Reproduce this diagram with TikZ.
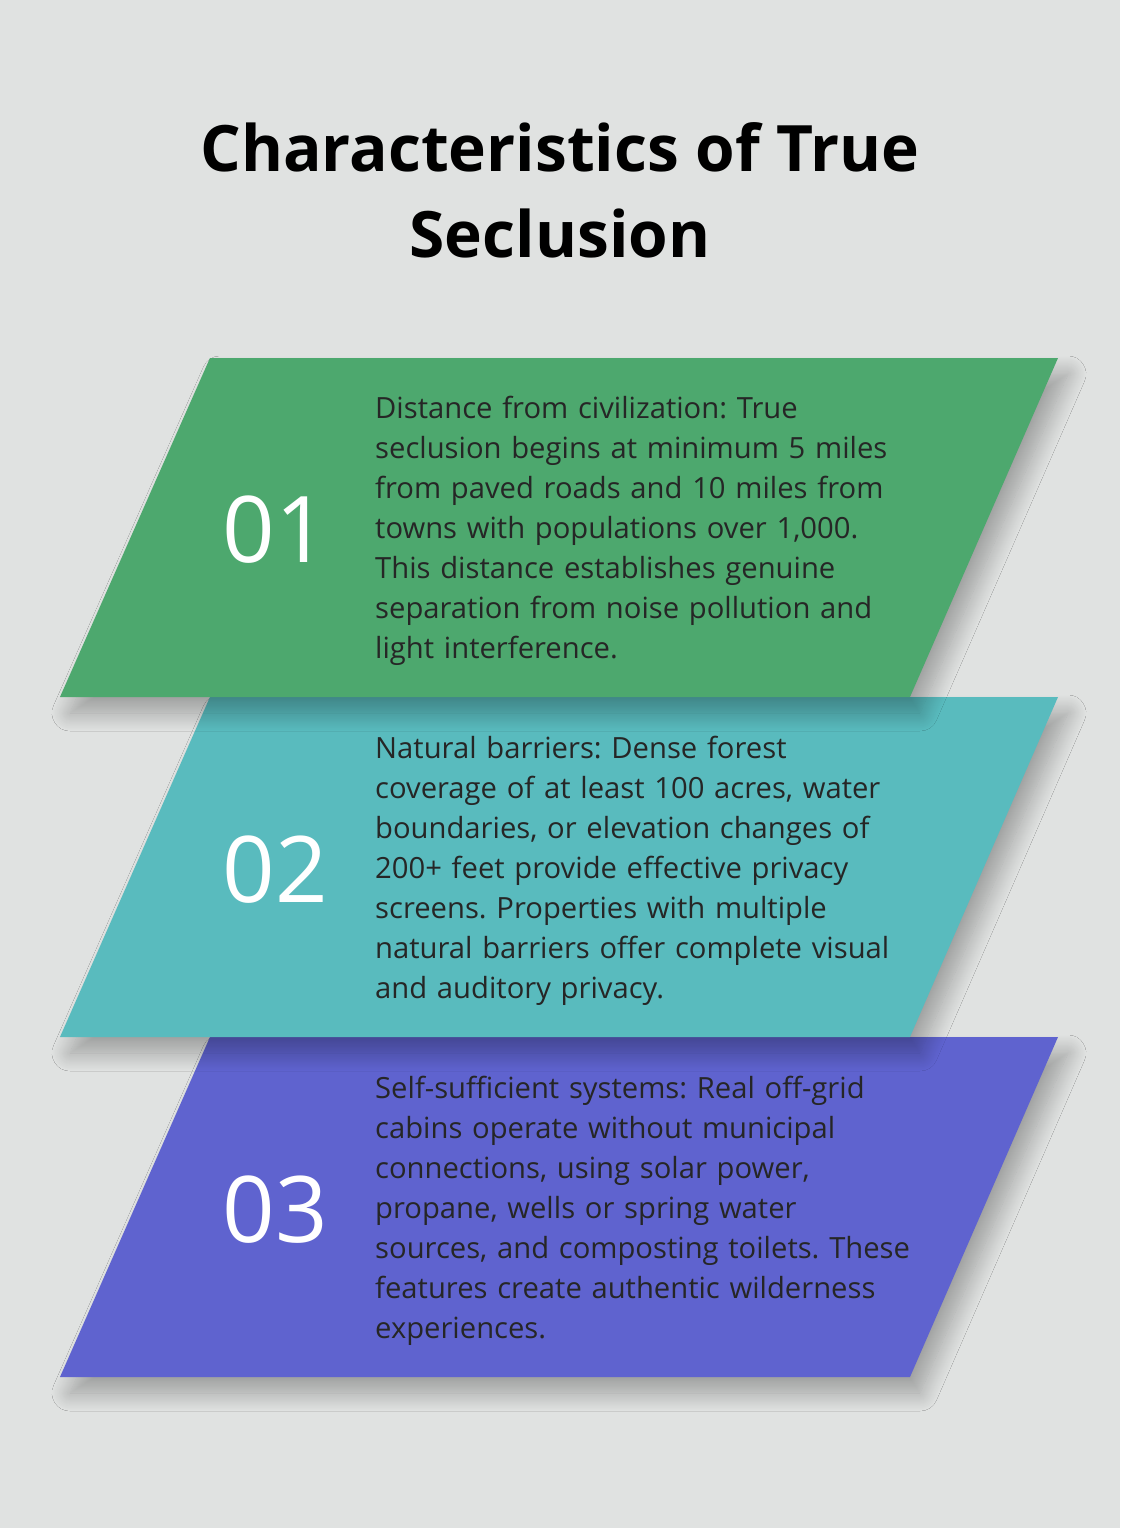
\documentclass[tikz,border=0pt]{standalone}
\usepackage{fontspec}
\setmainfont{Open Sans}
\usetikzlibrary{positioning,shadows.blur}
\definecolor{bg}{HTML}{E0E2E1}
\definecolor{bandA}{HTML}{4DA86E}
\definecolor{bandB}{HTML}{59BBBE}
\definecolor{bandC}{HTML}{5F63CF}
\frenchspacing
\hyphenpenalty=10000
\exhyphenpenalty=10000
\begin{document}
\begin{tikzpicture}[x=1pt,y=-1pt,
    band/.style={
      blur shadow={shadow xshift=10pt,shadow yshift=-16pt,shadow blur radius=18pt,shadow blur steps=20,shadow opacity=30}
    },
    num/.style={
      text=white,
      font=\fontsize{92}{92}\selectfont
    },
    desc/.style={
      text=black!85,
      anchor=north west,
      inner sep=0pt,
      text width=535pt,
      align=left,
      font=\fontsize{29.2}{40}\selectfont
    },
  ]
  \fill[bg] (0,0) rectangle (1120,1528);
  \node[font=\fontsize{64}{86}\selectfont\bfseries, align=center] (title) at (560,190)
    {Characteristics of True\\Seclusion};
  % bands, bottom first so shadows fall under the upper ones
  \fill[bandC, band] (210,1037) -- (1058,1037) -- (910,1377) -- (60,1377) -- cycle;
  \fill[bandB, band] (210,697) -- (1058,697) -- (910,1037) -- (60,1037) -- cycle;
  \fill[bandA, band] (210,358) -- (1058,358) -- (910,697) -- (60,697) -- cycle;
  \node[num] (num-1) at (275,530) {01};
  \node[num] (num-2) at (275,870) {02};
  \node[num] (num-3) at (275,1210) {03};
  \node[desc] (desc-1) at (375,396) {Distance from civilization: True seclusion begins at minimum 5 miles from paved roads and 10 miles from towns with populations over 1,000. This distance establishes genuine separation from noise pollution and light interference.};
  \node[desc] (desc-2) at (375,736) {Natural barriers: Dense forest coverage of at least 100 acres, water boundaries, or elevation changes of 200+ feet provide effective privacy screens. Properties with multiple natural barriers offer complete visual and auditory privacy.};
  \node[desc] (desc-3) at (375,1076) {Self-sufficient systems: Real off-grid cabins operate without municipal connections, using solar power, propane, wells or spring water sources, and composting toilets. These features create authentic wilderness experiences.};
\end{tikzpicture}
\end{document}
